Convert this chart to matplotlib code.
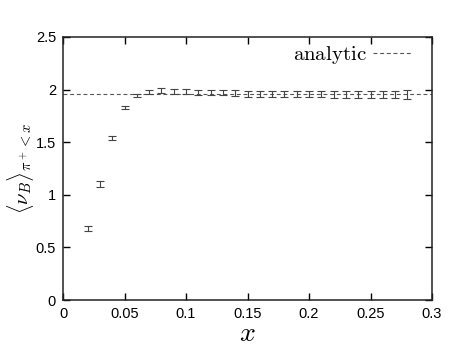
import matplotlib
matplotlib.use("Agg")
import matplotlib.pyplot as plt
import numpy as np

x = [0.02, 0.03, 0.04, 0.05, 0.06, 0.07, 0.08, 0.09, 0.10, 0.11, 0.12, 0.13, 0.14,
     0.15, 0.16, 0.17, 0.18, 0.19, 0.20, 0.21, 0.22, 0.23, 0.24, 0.25, 0.26, 0.27, 0.28]
y = [0.68, 1.10, 1.54, 1.83, 1.94, 1.98, 1.99, 1.98, 1.98, 1.97, 1.97, 1.97, 1.965,
     1.96, 1.96, 1.96, 1.96, 1.955, 1.955, 1.955, 1.955, 1.955, 1.955, 1.955, 1.955, 1.955, 1.955]
yerr = [0.02, 0.03, 0.015, 0.015, 0.015, 0.02, 0.025, 0.025, 0.025, 0.025, 0.025, 0.025, 0.03,
        0.03, 0.03, 0.03, 0.03, 0.03, 0.03, 0.03, 0.035, 0.035, 0.035, 0.035, 0.035, 0.035, 0.04]
analytic = 1.96
xticks = [0, 0.05, 0.1, 0.15, 0.2, 0.25, 0.3]
xticklabels = ["0", "0.05", "0.1", "0.15", "0.2", "0.25", "0.3"]
yticks = [0, 0.5, 1, 1.5, 2, 2.5]
yticklabels = ["0", "0.5", "1", "1.5", "2", "2.5"]

plt.rcParams['mathtext.fontset'] = 'cm'
plt.rcParams['font.family'] = ['Liberation Sans', 'DejaVu Sans']

fig = plt.figure(figsize=(4.72, 3.54), dpi=100)
ax = fig.add_axes([63/472, 1-300/354, (432-63)/472, (300-37)/354])

ax.axhline(analytic, color='#555555', lw=0.8, ls=(0, (3.5, 2.5)), label=r'$\mathrm{analytic}$')
ax.errorbar(x, y, yerr=yerr, fmt='none', ecolor='#444444', elinewidth=0.8,
            capsize=2.6, capthick=0.8)

ax.set_xlim(0, 0.3)
ax.set_ylim(0, 2.5)
ax.set_xticks(xticks)
ax.set_xticklabels(xticklabels)
ax.set_yticks(yticks)
ax.set_yticklabels(yticklabels)
ax.tick_params(direction='in', length=5, width=1, top=True, right=True, labelsize=10.5, pad=5)
for s in ax.spines.values():
    s.set_linewidth(1.1)
    s.set_color('#222222')

ax.set_xlabel(r'$x$', fontsize=20, labelpad=0)
ax.set_ylabel(r'$\langle \nu_B \rangle_{\pi^+<x}$', fontsize=15, labelpad=0)

leg = ax.legend(loc='upper right', frameon=False, markerfirst=False, fontsize=15,
                handlelength=1.9, handletextpad=0.3, borderaxespad=0.2,
                bbox_to_anchor=(0.98, 1.02))

fig.savefig('out.png', dpi=100)
